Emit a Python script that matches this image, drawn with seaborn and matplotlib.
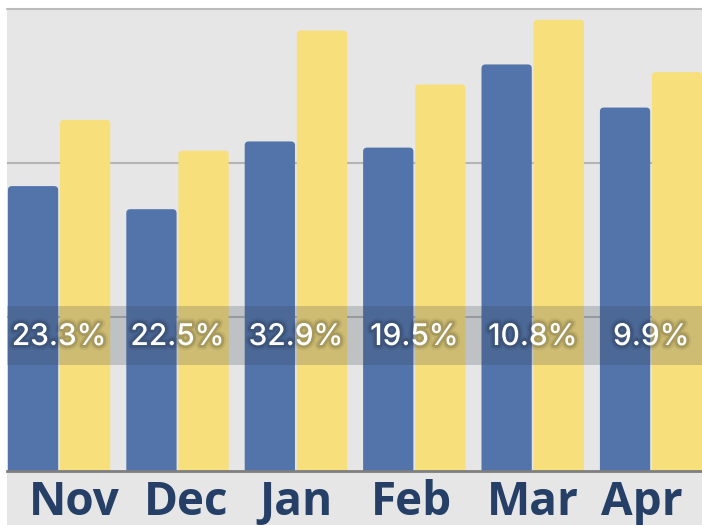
import numpy as np
import pandas as pd
import matplotlib
matplotlib.use('Agg')
import matplotlib.pyplot as plt
import matplotlib.patheffects as pe
from matplotlib.patches import FancyBboxPatch, Rectangle
import seaborn as sns

# values
months = ['Nov', 'Dec', 'Jan', 'Feb', 'Mar', 'Apr']
series_a = [185, 170, 214, 210, 264, 236]
series_b = [228, 208, 286, 251, 293, 259]
pct_labels = ['23.3%', '22.5%', '32.9%', '19.5%', '10.8%', '9.9%']

df = pd.DataFrame({
    'month': months * 2,
    'value': series_a + series_b,
    'series': ['a'] * len(months) + ['b'] * len(months),
})

sns.set_theme(style='white')
plt.rcParams['font.family'] = ['Open Sans', 'DejaVu Sans']

W, H = 702, 525
fig = plt.figure(figsize=(W / 100, H / 100), dpi=100, facecolor='white')

# gray panel behind the axes and the label area
fig.patches.append(Rectangle((7 / W, 0), 1 - 7 / W, (H - 9) / H,
                             transform=fig.transFigure, facecolor='#e6e6e6',
                             edgecolor='none', zorder=-10))

ax = fig.add_axes([7 / W, (H - 471) / H, 1 - 7 / W, (471 - 9) / H])
ax.set_facecolor('#e6e6e6')

sns.barplot(data=df, x='month', y='value', hue='series', order=months,
            palette=['#5274ab', '#f7df7c'], saturation=1, width=0.88,
            gap=0.035, legend=False, ax=ax, zorder=2)

ax.set_xlim(-0.44, 5.43)
ax.set_ylim(0, 300)

# rounded top corners
px_x = (ax.get_position().width * W) / (ax.get_xlim()[1] - ax.get_xlim()[0])
px_y = (ax.get_position().height * H) / 300
r = 4
for p in list(ax.patches):
    x0, w, h = p.get_x(), p.get_width(), p.get_height()
    fb = FancyBboxPatch((x0, -10), w, h + 10,
                        boxstyle=f'round,pad=0,rounding_size={r / px_x}',
                        mutation_aspect=px_x / px_y,
                        facecolor=p.get_facecolor(), edgecolor='none',
                        zorder=2)
    p.remove()
    ax.add_patch(fb)

for yv in [100, 200]:
    ax.axhline(yv, color='#b4b4b4', lw=1.5, zorder=1)
ax.axhline(300, color='#bbbbbb', lw=1.5, zorder=1, clip_on=False)

# translucent label band
ax.axhspan(69, 107, color=(50 / 255, 62 / 255, 75 / 255), alpha=0.21,
           lw=0, zorder=3)
for i, t in enumerate(pct_labels):
    ax.text(i, 87, t, ha='center', va='center', color='white', fontsize=21.5,
            family=['Inter', 'DejaVu Sans'], fontweight='medium', zorder=4,
            path_effects=[pe.Stroke(linewidth=7, foreground='black', alpha=0.06),
                          pe.Stroke(linewidth=4, foreground='black', alpha=0.12),
                          pe.Normal()])

for s in ['top', 'left', 'right']:
    ax.spines[s].set_visible(False)
ax.spines['bottom'].set_color('#7f7f7f')
ax.spines['bottom'].set_linewidth(2)
ax.spines['bottom'].set_zorder(5)

ax.set_yticks([])
ax.set_xlabel('')
ax.set_ylabel('')
# label positions drift toward the middle in the reference
ax.set_xticks([0.13, 1.07, 2.0, 2.98, 4.0, 4.92])
ax.set_xticklabels(months, fontsize=33, fontweight='bold', color='#253f66')
ax.tick_params(axis='x', length=0, pad=6)

fig.savefig('out.png', dpi=100, facecolor='white')
